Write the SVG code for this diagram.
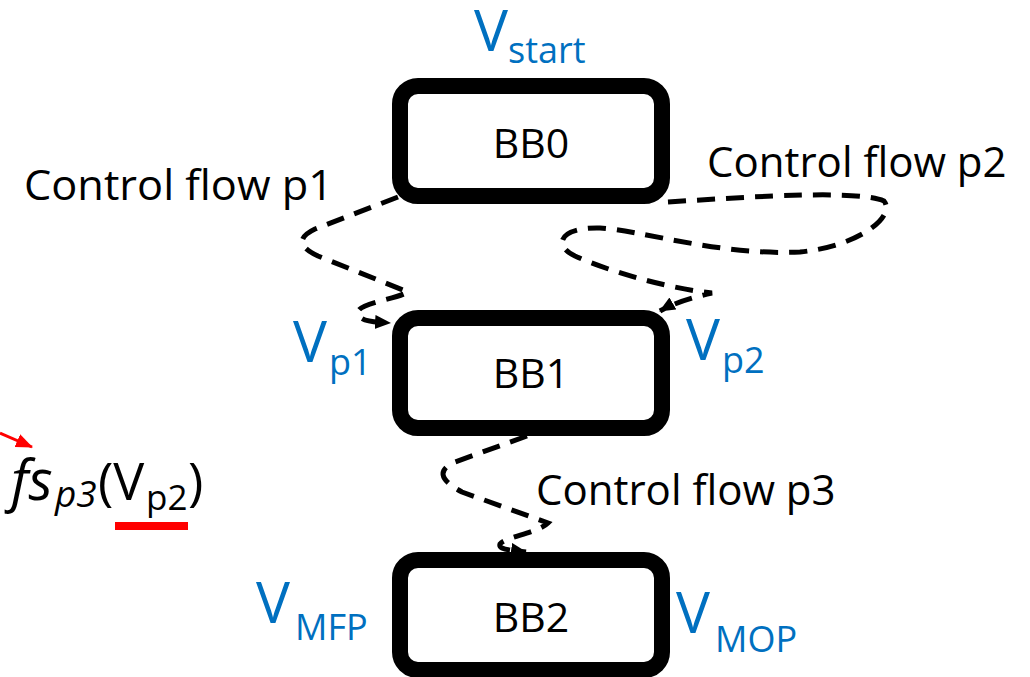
<svg xmlns="http://www.w3.org/2000/svg" width="1030" height="677" viewBox="0 0 1030 677">
<style>
.box{fill:#fff;stroke:#000;stroke-width:16}
.bb{font-family:"Open Sans","Liberation Sans",sans-serif;font-size:41px;fill:#000;text-anchor:middle}
.lbl{font-family:"Open Sans","Liberation Sans",sans-serif;font-size:42px;fill:#000}
.v{font-family:"Open Sans","Liberation Sans",sans-serif;font-size:57px;fill:#0070C0}
.vs{font-family:"Open Sans","Liberation Sans",sans-serif;font-size:36px;fill:#0070C0}
.fs{font-family:"Open Sans","Liberation Sans",sans-serif;fill:#000}
.flow{fill:none;stroke:#000;stroke-width:5;stroke-dasharray:18 11}
</style>
<defs>
<marker id="ah" markerUnits="userSpaceOnUse" markerWidth="18" markerHeight="16" refX="15" refY="7" orient="auto">
<path d="M0,0 L16,7 L0,14 Z" fill="#000"/>
</marker>
<marker id="ahr" markerUnits="userSpaceOnUse" markerWidth="20" markerHeight="16" refX="16" refY="7" orient="auto">
<path d="M0,0 L17,7 L0,14 Z" fill="#f00"/>
</marker>
</defs>
<rect width="1030" height="677" fill="#fff"/>

<g id="connectors">
<path class="flow" marker-end="url(#ah)" d="M398,197 L315,229 Q288,242 318,256 L408,292 C395,300 355,303 358,314 C361,322 376,322 390,323"/>
<path class="flow" marker-end="url(#ah)" d="M668,202 C760,196 860,190 884,201 C896,216 860,246 800,252 C720,256 640,230 600,228 C560,227 552,245 575,256 C620,276 680,290 712,293 C690,298 672,304 660,311"/>
<path class="flow" marker-end="url(#ah)" d="M527,436 L455,462 Q428,474 462,492 L548,523 C538,533 505,537 500,544 C498,550 512,550 526,552"/>
</g>

<g id="BB0">
<rect class="box" x="400" y="86" width="262" height="110" rx="18"/>
<text class="bb" x="531" y="158">BB0</text>
</g>
<g id="BB1">
<rect class="box" x="400" y="318" width="262" height="110" rx="18"/>
<text class="bb" x="531" y="388">BB1</text>
</g>
<g id="BB2">
<rect class="box" x="400" y="560" width="262" height="110" rx="18"/>
<text class="bb" x="531" y="632">BB2</text>
</g>

<g id="labels">
<text class="lbl" x="24" y="200" textLength="309" lengthAdjust="spacingAndGlyphs">Control flow p1</text>
<text class="lbl" x="707" y="177">Control flow p2</text>
<text class="lbl" x="536" y="505">Control flow p3</text>
</g>

<g id="V_start"><text class="v" x="474" y="51">V</text><text class="vs" x="508" y="63">start</text></g>
<g id="V_p1"><text class="v" x="293" y="362">V</text><text class="vs" x="329" y="375">p1</text></g>
<g id="V_p2"><text class="v" x="686" y="360">V</text><text class="vs" x="722" y="373">p2</text></g>
<g id="V_MFP"><text class="v" x="256" y="623">V</text><text class="vs" x="295" y="640">MFP</text></g>
<g id="V_MOP"><text class="v" x="676" y="633">V</text><text class="vs" x="715" y="652">MOP</text></g>

<g id="fs">
<line x1="0" y1="433" x2="32" y2="447" stroke="#f00" stroke-width="3" marker-end="url(#ahr)"/>
<text class="fs" y="500"><tspan x="11" font-style="italic" font-size="56">fs</tspan><tspan x="55" y="507" font-style="italic" font-size="37">p3</tspan><tspan x="98" y="500" font-size="52">(V</tspan><tspan x="146" y="510" font-size="35">p2</tspan><tspan x="188" y="500" font-size="52">)</tspan></text>
<rect x="115" y="522" width="73" height="8" fill="#f00"/>
</g>
</svg>
